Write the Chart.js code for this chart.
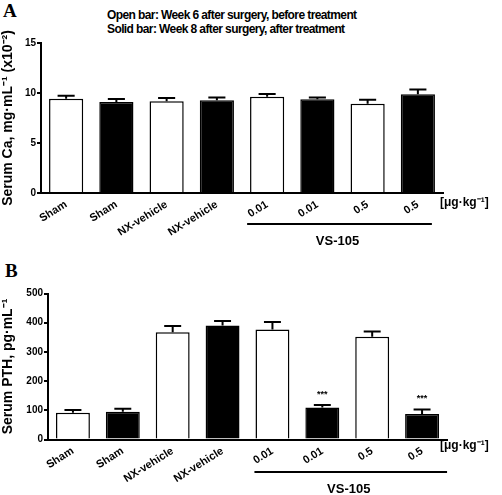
<!DOCTYPE html>
<html><head><meta charset="utf-8">
<script src="https://cdn.jsdelivr.net/npm/chart.js@4"></script>
<style>
html,body{margin:0;padding:0;background:#fff;width:502px;height:495px;overflow:hidden;position:relative;font-family:"Liberation Sans",Arial,sans-serif;}
canvas{position:absolute;left:0;}
.t{position:absolute;white-space:nowrap;color:#000;}
.letter{font-family:"Liberation Serif","Times New Roman",serif;font-weight:bold;font-size:19px;}
.hdr{font-family:"Liberation Sans Narrow","Arial Narrow","Liberation Sans",sans-serif;font-size:12px;font-weight:bold;letter-spacing:-0.6px;}
</style></head>
<body>
<div class="t letter" style="left:3px;top:0px;">A</div>
<div class="t letter" style="left:5px;top:260px;">B</div>
<div class="t hdr" style="left:107px;top:8px;">Open bar: Week 6 after surgery, before treatment</div>
<div class="t hdr" style="left:107px;top:22px;">Solid bar: Week 8 after surgery, after treatment</div>
<canvas id="ca" width="502" height="250" style="top:0px"></canvas>
<canvas id="pth" width="502" height="240" style="top:255px"></canvas>
<script>
// ---- data ----
const categories = ["Sham", "Sham", "NX-vehicle", "NX-vehicle", "0.01", "0.01", "0.5", "0.5"];
const week = [6, 8, 6, 8, 6, 8, 6, 8];            // open bar = week 6, solid bar = week 8
const caMean = [9.43, 9.10, 9.17, 9.27, 9.63, 9.37, 8.93, 9.87];
const caErr  = [0.30, 0.30, 0.33, 0.27, 0.27, 0.17, 0.40, 0.47];
const pthMean = [92, 95, 367, 390, 377, 110, 352, 87];
const pthErr  = [9, 10, 22, 16, 25, 8, 18, 16];
const pthSig  = ["", "", "", "", "", "***", "", "***"];
const caTicks = [0, 5, 10, 15];
const pthTicks = [0, 100, 200, 300, 400, 500];
const unitLabel = "[\u03bcg\u00b7kg\u207b\u00b9]";
const groupLabel = "VS-105";
const caTitle = "Serum Ca, mg\u00b7mL\u207b\u00b9 (x10\u207b\u00b2)";
const pthTitle = "Serum PTH, pg\u00b7mL\u207b\u00b9";

const FONT = '"Liberation Sans", Arial, sans-serif';

const extrasPlugin = {
  id: 'extras',
  afterDatasetsDraw(chart, args, opts) {
    const ctx = chart.ctx;
    const meta = chart.getDatasetMeta(0);
    const ys = chart.scales.y, xs = chart.scales.x;
    ctx.save();
    ctx.strokeStyle = '#000';
    ctx.lineWidth = 2;
    meta.data.forEach((bar, i) => {
      const top = ys.getPixelForValue(opts.mean[i] + opts.err[i]);
      const half = bar.width / 4;
      ctx.beginPath();
      ctx.moveTo(bar.x, bar.y);
      ctx.lineTo(bar.x, top);
      ctx.moveTo(bar.x - half, top);
      ctx.lineTo(bar.x + half, top);
      ctx.stroke();
      if (opts.sig && opts.sig[i]) {
        ctx.fillStyle = '#000';
        ctx.font = 'bold 9px ' + FONT;
        ctx.textAlign = 'center';
        ctx.textBaseline = 'middle';
        ctx.fillText(opts.sig[i], bar.x, top - 11);
      }
    });
    ctx.fillStyle = '#000';
    ctx.font = 'bold 12px ' + FONT;
    ctx.textAlign = 'left';
    ctx.textBaseline = 'middle';
    ctx.fillText(unitLabel, opts.unitX, ys.bottom + opts.unitDy);
    const x0 = xs.getPixelForValue(4) + opts.brFrom;
    const x1 = xs.getPixelForValue(7) + opts.brTo;
    ctx.lineWidth = 2;
    ctx.beginPath();
    ctx.moveTo(x0, opts.brY);
    ctx.lineTo(x1, opts.brY);
    ctx.stroke();
    ctx.font = 'bold 13px ' + FONT;
    ctx.textAlign = 'center';
    ctx.fillText(groupLabel, (x0 + x1) / 2 - 2, opts.brY + 17);
    ctx.restore();
  }
};

function makeChart(id, mean, err, sig, ticks, title, g) {
  return new Chart(document.getElementById(id), {
    type: 'bar',
    data: {
      labels: categories,
      datasets: [{
        data: mean,
        backgroundColor: week.map(w => w === 6 ? '#ffffff' : '#000000'),
        borderColor: '#000',
        borderWidth: 1.5,
        barPercentage: 0.68,
        categoryPercentage: 1.0
      }]
    },
    options: {
      responsive: false,
      animation: false,
      devicePixelRatio: 1,
      layout: { padding: { left: 0, top: g.top, right: g.right, bottom: 0 } },
      plugins: {
        legend: { display: false },
        tooltip: { enabled: false },
        extras: { mean, err, sig, unitX: g.unitX, unitDy: g.unitDy, brY: g.brY, brFrom: g.brFrom, brTo: g.brTo }
      },
      scales: {
        x: {
          grid: { display: false, drawTicks: false },
          border: { display: true, color: '#000', width: 2 },
          ticks: {
            color: '#000', minRotation: 32, maxRotation: 32, autoSkip: false, padding: 5,
            font: { family: FONT, weight: 'bold', size: 11 }
          },
          afterFit(s) { s.height = g.xh; }
        },
        y: {
          min: ticks[0], max: ticks[ticks.length - 1],
          afterBuildTicks(s) { s.ticks = ticks.map(v => ({ value: v })); },
          grid: { display: true, drawOnChartArea: false, drawTicks: true, tickLength: 4, color: '#000', lineWidth: 2 },
          border: { display: true, color: '#000', width: 2 },
          ticks: { color: '#000', padding: 1, font: { family: FONT, weight: 'bold', size: 10 } },
          title: { display: true, text: title, color: '#000', padding: { top: 0, bottom: 1 }, font: { family: FONT, weight: 'bold', size: g.tsize } },
          afterFit(s) { s.width = g.yw; }
        }
      }
    },
    plugins: [extrasPlugin]
  });
}

makeChart('ca', caMean, caErr, null, caTicks, caTitle,
  { top: 43, right: 59, xh: 57, yw: 41, tsize: 14, unitX: 440, unitDy: 10, brY: 224, brFrom: -20, brTo: 14 });
makeChart('pth', pthMean, pthErr, pthSig, pthTicks, pthTitle,
  { top: 38.5, right: 55, xh: 55.5, yw: 48, tsize: 14, unitX: 440, unitDy: 6, brY: 217, brFrom: -18, brTo: 25 });
</script>
</body></html>
